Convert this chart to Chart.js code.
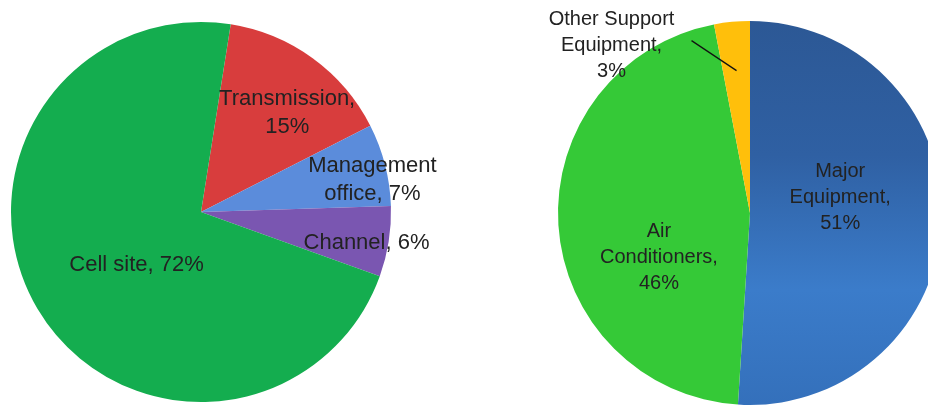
<!DOCTYPE html>
<html>
<head>
<meta charset="utf-8">
<script src="https://cdn.jsdelivr.net/npm/chart.js@4.4.1/dist/chart.umd.min.js"></script>
<style>
  html, body { margin: 0; padding: 0; background: #fff; overflow: hidden; }
  body { width: 928px; height: 413px; position: relative; }
  .box { position: absolute; }
</style>
</head>
<body>
<div class="box" style="left:0;top:0;width:464px;height:413px"><canvas id="costChart"></canvas></div>
<div class="box" style="left:530px;top:0;width:440px;height:413px"><canvas id="powerChart"></canvas></div>
<script>
// left pie: share by network part (%)
var siteLabels = ["Transmission", "Management office", "Channel", "Cell site"];
var siteText = ["Transmission,\n15%", "Management\noffice, 7%", "Channel, 6%", "Cell site, 72%"];
var siteValues = [15, 7, 6, 72];

// right pie: share inside the cell site (%)
var equipLabels = ["Major Equipment", "Air Conditioners", "Other Support Equipment"];
var equipText = ["Major\nEquipment,\n51%", "Air\nConditioners,\n46%", "Other Support\nEquipment,\n3%"];
var equipValues = [51, 46, 3];

// label placement: fraction of radius along the slice middle, then a nudge
var sitePlace = [
  { frac: 0.7, dx: 8, dy: 9 },
  { frac: 0.85, dx: 15, dy: 8 },
  { frac: 0.85, dx: 6, dy: 6 },
  { frac: 0.4, dx: 1, dy: 14 }
];
var equipPlace = [
  { frac: 0.47, dx: 0, dy: -18 },
  { frac: 0.47, dx: -1, dy: 39 },
  { frac: 0.745, dx: -125, dy: -25, leader: [-45, -30] }
];

var sliceText = {
  id: "sliceText",
  afterDatasetsDraw: function (chart, args, opts) {
    var ctx = chart.ctx;
    var meta = chart.getDatasetMeta(0);
    ctx.save();
    ctx.font = opts.font;
    ctx.fillStyle = "#222";
    ctx.textAlign = "center";
    ctx.textBaseline = "middle";
    meta.data.forEach(function (arc, i) {
      var p = arc.getProps(["x", "y", "startAngle", "endAngle", "outerRadius"], true);
      var mid = (p.startAngle + p.endAngle) / 2;
      var place = opts.place[i];
      var ax = p.x + Math.cos(mid) * p.outerRadius * place.frac;
      var ay = p.y + Math.sin(mid) * p.outerRadius * place.frac;
      if (place.leader) {
        ctx.strokeStyle = "#111";
        ctx.lineWidth = 1.3;
        ctx.beginPath();
        ctx.moveTo(ax + place.leader[0], ay + place.leader[1]);
        ctx.lineTo(ax, ay);
        ctx.stroke();
      }
      var lines = opts.text[i].split("\n");
      var top = ay + place.dy - (lines.length - 1) * opts.lineHeight / 2;
      lines.forEach(function (line, k) {
        ctx.fillText(line, ax + place.dx, top + k * opts.lineHeight);
      });
    });
    ctx.restore();
  }
};

Chart.defaults.animation = false;

new Chart(document.getElementById("costChart"), {
  type: "pie",
  data: {
    labels: siteLabels,
    datasets: [{
      data: siteValues,
      backgroundColor: ["#d83d3d", "#5b8cdb", "#7a56b1", "#14ad4f"],
      borderWidth: 0,
      hoverOffset: 0
    }]
  },
  options: {
    responsive: true,
    maintainAspectRatio: false,
    rotation: 9,
    layout: { padding: { left: 11, right: 73, top: 22, bottom: 11 } },
    plugins: {
      legend: { display: false },
      tooltip: { enabled: false },
      sliceText: { text: siteText, place: sitePlace, font: '22px "Liberation Sans", Arial, sans-serif', lineHeight: 28 }
    }
  },
  plugins: [sliceText]
});

new Chart(document.getElementById("powerChart"), {
  type: "pie",
  data: {
    labels: equipLabels,
    datasets: [{
      data: equipValues,
      backgroundColor: function (c) {
        if (c.dataIndex !== 0) return ["#2f5d9e", "#35c937", "#ffbf0b"][c.dataIndex];
        var area = c.chart.chartArea;
        if (!area) return "#3469b0";
        var g = c.chart.ctx.createLinearGradient(0, area.top, 0, area.bottom);
        g.addColorStop(0, "#2c5895");
        g.addColorStop(0.35, "#2f60a3");
        g.addColorStop(0.7, "#3b7cca");
        g.addColorStop(1, "#3470bb");
        return g;
      },
      borderWidth: 0,
      hoverOffset: 0
    }]
  },
  options: {
    responsive: true,
    maintainAspectRatio: false,
    rotation: 0,
    layout: { padding: { left: 28, right: 28, top: 21, bottom: 8 } },
    plugins: {
      legend: { display: false },
      tooltip: { enabled: false },
      sliceText: { text: equipText, place: equipPlace, font: '20px "Liberation Sans", Arial, sans-serif', lineHeight: 26 }
    }
  },
  plugins: [sliceText]
});
</script>
</body>
</html>
